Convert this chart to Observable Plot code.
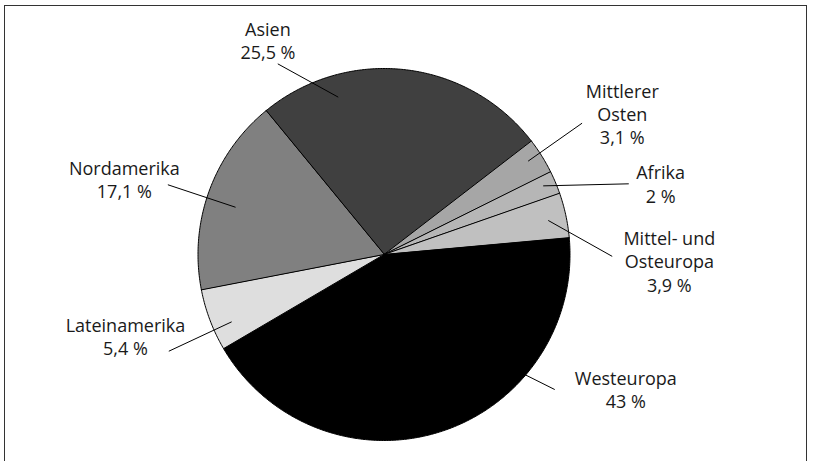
<!DOCTYPE html>
<html>
<head>
<meta charset="utf-8">
<script src="https://cdn.jsdelivr.net/npm/d3@7"></script>
<script src="https://cdn.jsdelivr.net/npm/@observablehq/plot@0.6"></script>
<style>
  html, body { margin: 0; padding: 0; background: #fff; }
  #chart svg { display: block; }
</style>
</head>
<body>
<div id="chart"></div>
<script>
// ---- data ----
const regions = ["Asien", "Mittlerer Osten", "Afrika", "Mittel- und Osteuropa", "Westeuropa", "Lateinamerika", "Nordamerika"];
const labelText = ["Asien", "Mittlerer\nOsten", "Afrika", "Mittel- und\nOsteuropa", "Westeuropa", "Lateinamerika", "Nordamerika"];
const shares = [25.5, 3.1, 2, 3.9, 43, 5.4, 17.1];

// ---- style ----
const sliceColors = ["#404040", "#a6a6a6", "#b6b6b6", "#c0c0c0", "#000000", "#dedede", "#808080"];
const startDeg = -39.4;
const fontSize = 18;

// ---- label layout (pie units: radius = 1, centre = 0,0) ----
const labelAt = [[-0.624, 1.195], [1.281, 0.864], [1.487, 0.425], [1.534, 0.0715], [1.300, -0.681], [-1.390, -0.394], [-1.396, 0.448]];
const leaderOut = [[-0.571, 1.025], [1.065, 0.706], [1.316, 0.380], [1.227, -0.010], [0.918, -0.726], [-1.157, -0.520], [-1.162, 0.375]];
const leaderIn = [[-0.246, 0.846], [0.775, 0.502], [0.856, 0.369], [0.883, 0.183], [0.734, -0.634], [-0.819, -0.362], [-0.798, 0.254]];

// ---- geometry from data ----
const start = startDeg * Math.PI / 180;
const arcs = d3.pie().sort(null).value(d => d).startAngle(start).endAngle(start + 2 * Math.PI)(shares);
const slices = arcs.map((a, i) => {
  const pts = [{u: 0, v: 0}];
  const n = Math.max(2, Math.ceil((a.endAngle - a.startAngle) / (Math.PI / 360)));
  for (let k = 0; k <= n; k++) {
    const t = a.startAngle + (a.endAngle - a.startAngle) * k / n;
    pts.push({u: Math.sin(t), v: Math.cos(t)});
  }
  return {name: regions[i], color: sliceColors[i], pts};
});

const labels = regions.map((r, i) => ({
  text: labelText[i] + "\n" + shares[i].toLocaleString("de-DE") + " %",
  u: labelAt[i][0], v: labelAt[i][1]
}));
const leaders = regions.map((r, i) => ({
  u1: leaderIn[i][0], v1: leaderIn[i][1], u2: leaderOut[i][0], v2: leaderOut[i][1]
}));

const chart = Plot.plot({
  width: 813,
  height: 461,
  marginLeft: 4,
  marginTop: 5,
  marginRight: 7,
  marginBottom: 0,
  style: {fontFamily: "'Open Sans', sans-serif", background: "#fff", overflow: "visible"},
  x: {domain: [-1, 1], range: [197.5, 569.5], axis: null},
  y: {domain: [-1, 1], range: [440, 68], axis: null},
  marks: [
    Plot.frame({anchor: "left", stroke: "#333"}),
    Plot.frame({anchor: "top", stroke: "#333"}),
    Plot.frame({anchor: "right", stroke: "#333"}),
    ...slices.map(s => Plot.line(s.pts, {x: "u", y: "v", fill: s.color, stroke: "#000", strokeWidth: 1, curve: "linear-closed", strokeLinejoin: "round"})),
    Plot.link(leaders, {x1: "u1", y1: "v1", x2: "u2", y2: "v2", stroke: "#000", strokeWidth: 1}),
    Plot.text(labels, {x: "u", y: "v", text: "text", fontSize: fontSize, lineHeight: 1.3, lineAnchor: "top", dy: -0.71 * fontSize, textAnchor: "middle", fill: "#1a1a1a"})
  ]
});
document.getElementById("chart").appendChild(chart);
</script>
</body>
</html>
